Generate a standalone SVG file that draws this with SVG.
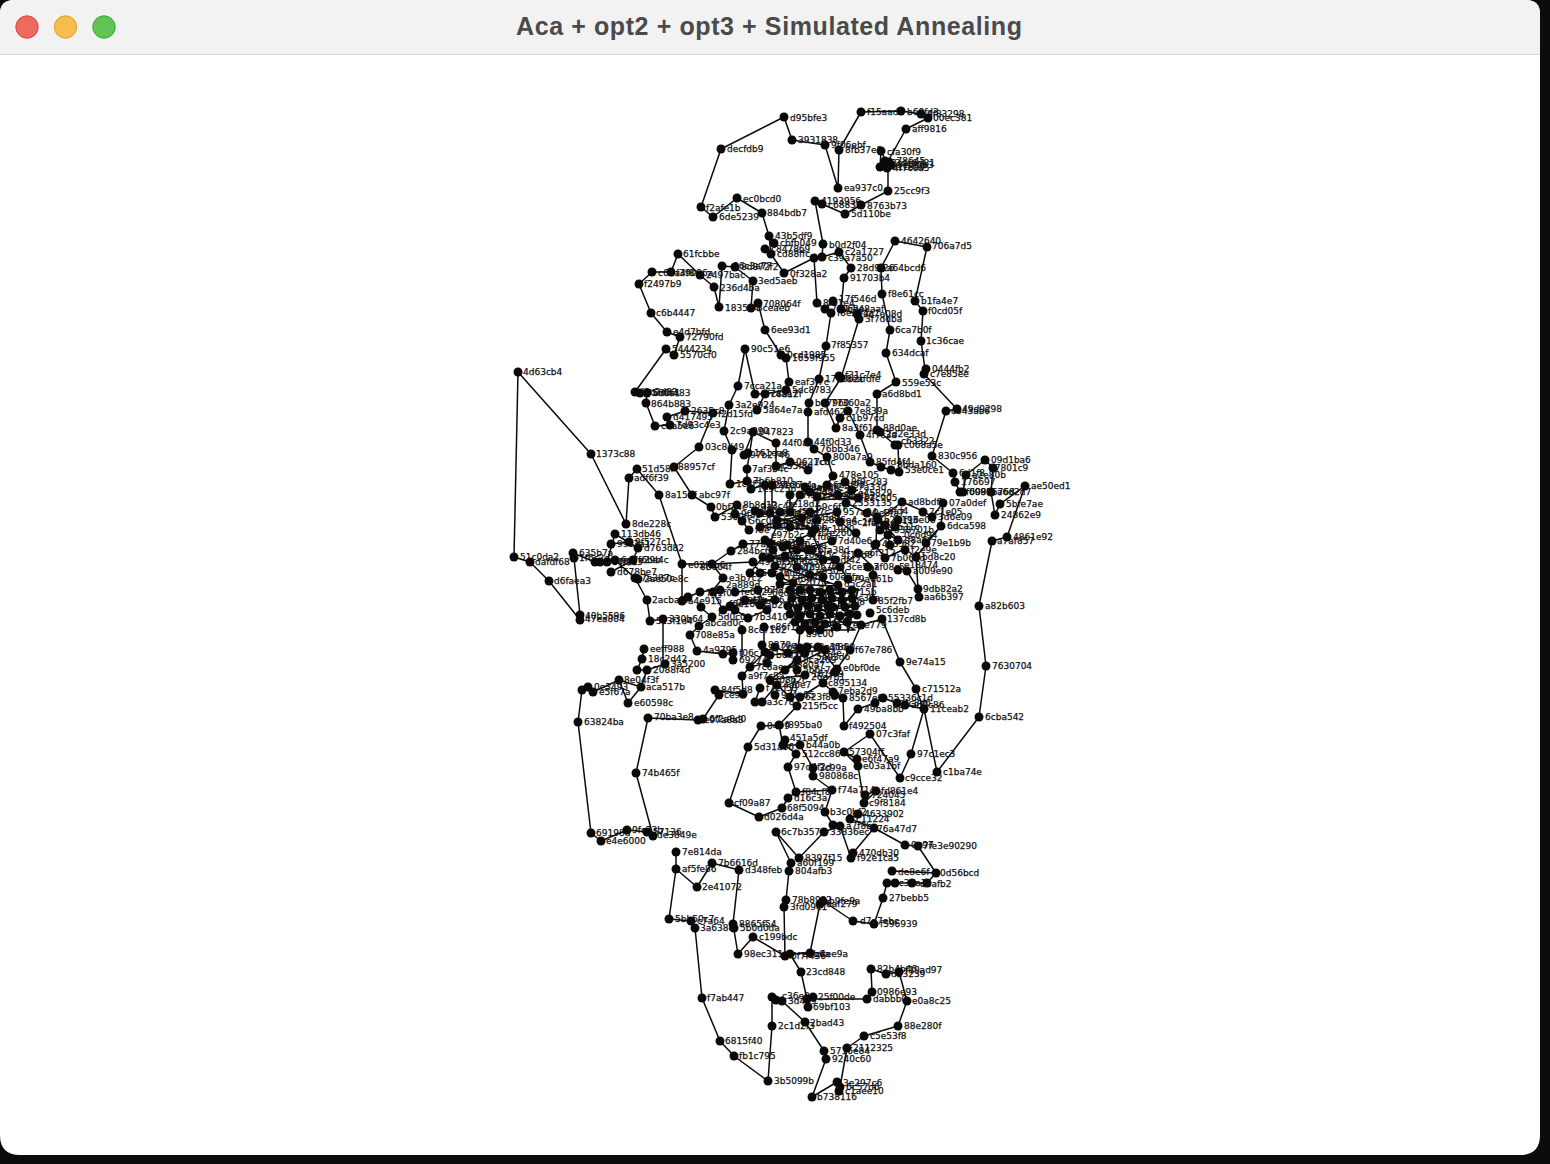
<svg xmlns="http://www.w3.org/2000/svg" width="1550" height="1164" viewBox="0 0 1550 1164">
<style>
#graph circle{r:4.5px;fill:#0a0a0a}
#graph text{font:9px "DejaVu Sans",sans-serif;fill:#111;stroke:#111;stroke-width:.25}
#connectors path{fill:none;stroke:#0a0a0a;stroke-width:1.5;stroke-linejoin:round}
.btn{stroke-width:1}
</style>
<rect width="1550" height="1164" fill="#0c0c0c"/>
<g id="window">
<path d="M14 0H1526Q1540 0 1540 14V1135Q1540 1155 1520 1155H20Q0 1155 0 1135V14Q0 0 14 0Z" fill="#fff"/>
<path d="M14 0H1526Q1540 0 1540 14V54H0V14Q0 0 14 0Z" fill="#f2f2f2"/>
<path d="M0 54.5H1540" stroke="#d8d8d8"/>
<circle class="btn" cx="27" cy="27" r="11.2" fill="#ee6a5f" stroke="#e0443e"/>
<circle class="btn" cx="65.500" cy="27" r="11.2" fill="#f5bd4f" stroke="#dea123"/>
<circle class="btn" cx="104" cy="27" r="11.2" fill="#61c454" stroke="#2aac2c"/>
<text x="516" y="35" textLength="506" lengthAdjust="spacing" font-family="'Liberation Sans',sans-serif" font-weight="700" font-size="25" fill="#4a4a4a">Aca + opt2 + opt3 + Simulated Annealing</text>
</g>
<g id="connectors">
<path d="M518 372L591 454L626 524L629 478L637 469L659 495L682 564L682 601L688 597L700 592L713 590L723 578L712 564L731 551L743 544L770 543M518 372L514 557L530 562L549 581L580 620L580 615L574 558L573 553L595 562L607 562L615 534L638 548L633 560L611 572M611 544L629 542L638 548M615 560L635 578L647 600L650 621L663 619L663 664M682 564L712 564L753 562M642 659L644 649M642 659L637 670L647 670L665 664M647 670L641 687L628 703L619 680L593 692L588 687L582 690L578 722L591 833L601 841L627 830L647 832L653 836L636 773L648 718L698 720L703 719L719 695L715 690L743 694L742 676L750 667L767 663M619 680L641 687M635 392L666 349L674 355L680 337L667 332L651 313L639 284L652 272L671 272L678 254L700 275L714 287L719 307L722 266L735 267L753 281L751 308L758 303L765 330L781 355L786 358L789 382L786 390L765 394L755 394L745 349L738 386L729 405L724 431L732 450L730 484L747 481L751 489L765 485L765 513M640 393L647 393L646 403L655 426L670 425L667 417L685 411L713 413L699 447L674 467L692 495L711 507L715 517L737 505L735 514L742 521L749 530M753 432L776 443L776 466L790 462L808 470M744 455L753 432L747 469L747 482M757 410L765 394M772 485L772 513M701 207L721 149L784 117L792 140L825 145L838 188L839 150L861 112L901 111L921 114L928 118L906 129L887 163L881 151L880 167L888 168L888 191L861 205L845 214L822 204L815 201L823 244L822 257L814 258L817 303L825 309L831 313L826 346L819 379L809 403L808 412L808 442L814 449L827 457L833 476L827 485M814 258L784 273L771 254L769 236L762 213L737 198L713 217L701 207M822 257L839 252L851 268L844 278L841 309L857 314L859 319L841 378L825 403L836 428L840 418L848 411L860 435L870 462L881 467L891 470L899 472L898 445L895 445M833 301L825 309M895 241L927 247L915 301L923 311L921 341L925 369L924 374L957 409L946 411L932 456L953 473L955 482L960 492L963 492L966 475L985 460L993 468L991 492L995 515L1000 504L1025 486L1007 537L992 541L979 606L986 666L979 717L937 772L924 709L911 754L900 778L870 734L844 752L857 759M937 772L924 709M895 241L881 268L882 294L890 330L886 353L896 382L877 394L877 430L880 432L895 445M882 619L900 662L916 689L924 709M905 705L924 709M882 619L861 625L850 650L837 669L823 683L833 692L843 698L844 726L858 709L875 703L883 698L897 703L905 705M873 600L873 567L858 553L840 567M919 597L918 589L916 557L941 526L925 543M907 571L918 589M902 502L923 511L932 517L943 503L941 526M844 752L858 766L864 803L876 791L865 795M800 745L813 768L813 776L832 790L825 812L833 825L840 826L851 858L853 853L874 828L905 845L918 846L936 873L892 871M874 828L850 819L858 814M840 826L824 832L799 858L776 832L791 863L789 871L786 900L784 907L785 956L790 954L801 972L807 999L867 999L872 992L871 969L886 974L899 972L907 1001L898 1026L864 1036L847 1048L840 1087L839 1091L837 1082L812 1097L826 1059L824 1051L805 1022L782 1001L776 1000L772 997L772 1026L768 1081L734 1056L720 1041L702 998L695 928L691 921L669 919L676 869L676 852M676 869L697 887L712 863L739 870L733 924L738 954L753 937L785 956M785 745L796 754L788 767L796 792L788 798L782 808L759 817L729 803L748 747L761 726L779 725L797 706L800 697M800 745L783 745L779 725M936 873L927 883L912 883L895 883L887 883L883 898L874 924L853 921L823 901L820 904L810 953L790 954M832 790L796 792M733 654L723 654L697 651L690 635L699 626L712 617L700 607M742 630L742 658M764 627L764 645M753 562L760 573M848 579L840 567M790 512L790 495M817 497L817 520M827 485L800 495L790 512L812 533L787 545L797 567L823 577L833 607M845 482L852 490L846 503L867 513L877 517L876 544M878 520L902 502M898 520L895 527L888 535L875 545L885 558L905 549L916 557M855 533L840 522L837 512L802 518L777 525L770 543L783 547L797 550L808 550L823 560L812 533M763 557L750 573L760 573L772 573L780 577L793 583L788 600L800 630L797 660L797 670L790 697M735 592L758 590L767 610L748 618L735 610L723 610L713 592M787 590L860 590L792 598L858 598L788 606L860 606L786 614L860 614L790 622L858 622L795 630L855 630L790 590L800 632L810 590L815 632L825 590L832 632L842 590L848 632L858 590M800 632L797 660M807 647L818 647L837 669M765 652L775 647L788 653L800 648L807 647M760 688L755 702L762 702L777 685L790 697L800 697M750 667L765 652M823 683L800 697M755 511L815 529L760 527L820 510M765 540L835 560L770 558L832 541M775 566L840 586L780 584L838 567M810 492L858 498L815 500L858 490M770 655L825 650L785 670L805 653L770 680L805 675M730 606L775 600L745 600L760 605M880 530L898 540L885 525L890 545"/>
</g>
<g id="graph">
<g id="n1"><circle cx="784" cy="117"/><text x="790" y="121">d95bfe3</text></g>
<g id="n2"><circle cx="721" cy="149"/><text x="727" y="152">decfdb9</text></g>
<g id="n3"><circle cx="701" cy="207"/><text x="706" y="211">f2afe1b</text></g>
<g id="n4"><circle cx="713" cy="217"/><text x="719" y="220">6de5239</text></g>
<g id="n5"><circle cx="737" cy="198"/><text x="743" y="202">ec0bcd0</text></g>
<g id="n6"><circle cx="762" cy="213"/><text x="767" y="216">884bdb7</text></g>
<g id="n7"><circle cx="769" cy="236"/><text x="775" y="239">43b5df9</text></g>
<g id="n8"><circle cx="774" cy="243"/><text x="780" y="246">cbfb049</text></g>
<g id="n9"><circle cx="765" cy="249"/><text x="771" y="252">c847869</text></g>
<g id="n10"><circle cx="771" cy="254"/><text x="777" y="257">cd88ffc</text></g>
<g id="n11"><circle cx="784" cy="273"/><text x="790" y="277">0f328a2</text></g>
<g id="n12"><circle cx="753" cy="281"/><text x="758" y="284">3ed5aeb</text></g>
<g id="n13"><circle cx="722" cy="266"/><text x="733" y="269">86c3a77</text></g>
<g id="n14"><circle cx="735" cy="267"/><text x="741" y="270">8d872f2</text></g>
<g id="n15"><circle cx="678" cy="254"/><text x="683" y="257">61fcbbe</text></g>
<g id="n16"><circle cx="652" cy="272"/><text x="658" y="276">c6da4f8</text></g>
<g id="n17"><circle cx="671" cy="272"/><text x="676" y="276">f39086a</text></g>
<g id="n18"><circle cx="700" cy="275"/><text x="706" y="278">2497bac</text></g>
<g id="n19"><circle cx="714" cy="287"/><text x="720" y="291">236d4ba</text></g>
<g id="n20"><circle cx="719" cy="307"/><text x="725" y="311">1835a4</text></g>
<g id="n21"><circle cx="639" cy="284"/><text x="644" y="287">f2497b9</text></g>
<g id="n22"><circle cx="651" cy="313"/><text x="656" y="316">c6b4447</text></g>
<g id="n23"><circle cx="667" cy="332"/><text x="673" y="335">e4d7bfd</text></g>
<g id="n24"><circle cx="680" cy="337"/><text x="686" y="340">72790fd</text></g>
<g id="n25"><circle cx="666" cy="349"/><text x="672" y="352">5444234</text></g>
<g id="n26"><circle cx="674" cy="355"/><text x="680" y="358">5570cf0</text></g>
<g id="n27"><circle cx="745" cy="349"/><text x="751" y="352">90c51e6</text></g>
<g id="n28"><circle cx="758" cy="303"/><text x="763" y="307">708064f</text></g>
<g id="n29"><circle cx="751" cy="308"/><text x="757" y="311">3ceaeb</text></g>
<g id="n30"><circle cx="765" cy="330"/><text x="771" y="333">6ee93d1</text></g>
<g id="n31"><circle cx="781" cy="355"/><text x="787" y="358">0cd1985</text></g>
<g id="n32"><circle cx="786" cy="358"/><text x="792" y="361">1659f955</text></g>
<g id="n33"><circle cx="792" cy="140"/><text x="798" y="143">3931838</text></g>
<g id="n34"><circle cx="825" cy="145"/><text x="831" y="148">9f06ebf</text></g>
<g id="n35"><circle cx="839" cy="150"/><text x="845" y="153">8fb37e8</text></g>
<g id="n36"><circle cx="861" cy="112"/><text x="867" y="115">f15aad4</text></g>
<g id="n37"><circle cx="901" cy="111"/><text x="907" y="115">b60fd3</text></g>
<g id="n38"><circle cx="921" cy="114"/><text x="927" y="117">4f83298</text></g>
<g id="n39"><circle cx="928" cy="118"/><text x="933" y="121">00ec381</text></g>
<g id="n40"><circle cx="906" cy="129"/><text x="912" y="132">aff9816</text></g>
<g id="n41"><circle cx="881" cy="151"/><text x="887" y="155">cfa30f9</text></g>
<g id="n42"><circle cx="885" cy="161"/><text x="891" y="164">a78645</text></g>
<g id="n43"><circle cx="889" cy="162"/><text x="895" y="166">3de6d81</text></g>
<g id="n44"><circle cx="880" cy="167"/><text x="886" y="170">5d1c8a9</text></g>
<g id="n45"><circle cx="887" cy="168"/><text x="893" y="171">4f7c0a5</text></g>
<g id="n46"><circle cx="891" cy="165"/><text x="897" y="168">9c6f0b3</text></g>
<g id="n47"><circle cx="888" cy="191"/><text x="894" y="194">25cc9f3</text></g>
<g id="n48"><circle cx="838" cy="188"/><text x="844" y="191">ea937c0</text></g>
<g id="n49"><circle cx="815" cy="201"/><text x="821" y="204">4193956</text></g>
<g id="n50"><circle cx="822" cy="204"/><text x="828" y="208">c68831</text></g>
<g id="n51"><circle cx="845" cy="214"/><text x="851" y="217">5d110be</text></g>
<g id="n52"><circle cx="861" cy="205"/><text x="867" y="209">8763b73</text></g>
<g id="n53"><circle cx="823" cy="244"/><text x="829" y="248">b0d2f04</text></g>
<g id="n54"><circle cx="822" cy="257"/><text x="828" y="261">c39a7a50</text></g>
<g id="n55"><circle cx="814" cy="258"/></g>
<g id="n56"><circle cx="839" cy="252"/><text x="845" y="255">c2a1727</text></g>
<g id="n57"><circle cx="851" cy="268"/><text x="857" y="271">28d9f26</text></g>
<g id="n58"><circle cx="844" cy="278"/><text x="850" y="281">91703b4</text></g>
<g id="n59"><circle cx="895" cy="241"/><text x="901" y="244">4642640</text></g>
<g id="n60"><circle cx="927" cy="247"/><text x="932" y="249">706a7d5</text></g>
<g id="n61"><circle cx="881" cy="268"/><text x="887" y="271">a64bcd6</text></g>
<g id="n62"><circle cx="882" cy="294"/><text x="888" y="297">f8e61cc</text></g>
<g id="n63"><circle cx="915" cy="301"/><text x="921" y="304">b1fa4e7</text></g>
<g id="n64"><circle cx="923" cy="311"/><text x="928" y="314">f0cd05f</text></g>
<g id="n65"><circle cx="890" cy="330"/><text x="895" y="333">6ca7b0f</text></g>
<g id="n66"><circle cx="921" cy="341"/><text x="926" y="344">1c36cae</text></g>
<g id="n67"><circle cx="886" cy="353"/><text x="892" y="356">634dcaf</text></g>
<g id="n68"><circle cx="926" cy="369"/><text x="932" y="372">0444fb2</text></g>
<g id="n69"><circle cx="924" cy="374"/><text x="930" y="377">c7e85ee</text></g>
<g id="n70"><circle cx="896" cy="382"/><text x="902" y="386">559e53c</text></g>
<g id="n71"><circle cx="817" cy="303"/><text x="823" y="306">8f61e4</text></g>
<g id="n72"><circle cx="833" cy="301"/><text x="839" y="302">17f546d</text></g>
<g id="n73"><circle cx="825" cy="309"/><text x="831" y="312">7a9c2e</text></g>
<g id="n74"><circle cx="831" cy="313"/><text x="837" y="316">f8e254a</text></g>
<g id="n75"><circle cx="841" cy="309"/><text x="847" y="312">6b48aaf</text></g>
<g id="n76"><circle cx="857" cy="314"/><text x="863" y="317">2c7e08d</text></g>
<g id="n77"><circle cx="859" cy="319"/><text x="865" y="322">3f7ddba</text></g>
<g id="n78"><circle cx="826" cy="346"/><text x="831" y="348">7f85357</text></g>
<g id="n79"><circle cx="819" cy="379"/><text x="825" y="382">17a3b2c</text></g>
<g id="n80"><circle cx="839" cy="376"/><text x="845" y="378">f31c7e4</text></g>
<g id="n81"><circle cx="841" cy="378"/><text x="846" y="382">8eafdfe</text></g>
<g id="n82"><circle cx="789" cy="382"/><text x="795" y="385">eaf3f7c</text></g>
<g id="n83"><circle cx="786" cy="390"/><text x="792" y="393">5dc8783</text></g>
<g id="n84"><circle cx="738" cy="386"/><text x="744" y="389">7cca21a</text></g>
<g id="n85"><circle cx="755" cy="394"/><text x="761" y="397">0f74aa7</text></g>
<g id="n86"><circle cx="765" cy="394"/><text x="771" y="397">c8a12f</text></g>
<g id="n87"><circle cx="757" cy="410"/><text x="763" y="413">5a64e7a</text></g>
<g id="n88"><circle cx="729" cy="405"/><text x="735" y="408">3a2e924</text></g>
<g id="n89"><circle cx="713" cy="413"/><text x="718" y="417">f2d15fd</text></g>
<g id="n90"><circle cx="685" cy="411"/><text x="691" y="414">2635c8</text></g>
<g id="n91"><circle cx="667" cy="417"/><text x="673" y="420">d417495</text></g>
<g id="n92"><circle cx="670" cy="425"/><text x="676" y="428">7d93c4e3</text></g>
<g id="n93"><circle cx="655" cy="426"/><text x="661" y="429">c8a5e6</text></g>
<g id="n94"><circle cx="646" cy="403"/><text x="651" y="407">864b883</text></g>
<g id="n95"><circle cx="635" cy="392"/><text x="641" y="395">f0c2d83</text></g>
<g id="n96"><circle cx="640" cy="393"/><text x="646" y="396">7566a1</text></g>
<g id="n97"><circle cx="647" cy="393"/><text x="653" y="396">6d0f483</text></g>
<g id="n98"><circle cx="518" cy="372"/><text x="523" y="375">4d63cb4</text></g>
<g id="n99"><circle cx="591" cy="454"/><text x="596" y="457">1373c88</text></g>
<g id="n100"><circle cx="626" cy="524"/><text x="632" y="527">8de228c</text></g>
<g id="n101"><circle cx="629" cy="478"/><text x="634" y="481">adf6f39</text></g>
<g id="n102"><circle cx="637" cy="469"/><text x="642" y="472">51d58f</text></g>
<g id="n103"><circle cx="659" cy="495"/><text x="665" y="498">8a151f</text></g>
<g id="n104"><circle cx="674" cy="467"/><text x="678" y="470">88957cf</text></g>
<g id="n105"><circle cx="699" cy="447"/><text x="705" y="450">03c8d49</text></g>
<g id="n106"><circle cx="692" cy="495"/><text x="699" y="498">abc97f</text></g>
<g id="n107"><circle cx="682" cy="564"/><text x="688" y="568">e02f8b6</text></g>
<g id="n108"><circle cx="647" cy="600"/><text x="652" y="603">2acba7f</text></g>
<g id="n109"><circle cx="650" cy="621"/><text x="656" y="624">5c3f1d4</text></g>
<g id="n110"><circle cx="663" cy="619"/><text x="669" y="622">330b64</text></g>
<g id="n111"><circle cx="514" cy="557"/><text x="520" y="560">51c0da2</text></g>
<g id="n112"><circle cx="530" cy="562"/><text x="535" y="565">dafdf68</text></g>
<g id="n113"><circle cx="549" cy="581"/><text x="554" y="584">d6faea3</text></g>
<g id="n114"><circle cx="580" cy="615"/><text x="585" y="619">40b5596</text></g>
<g id="n115"><circle cx="580" cy="620"/><text x="585" y="622">47ea804</text></g>
<g id="n116"><circle cx="573" cy="553"/><text x="579" y="556">635b7a</text></g>
<g id="n117"><circle cx="574" cy="558"/><text x="579" y="561">1f6c2e</text></g>
<g id="n118"><circle cx="615" cy="534"/><text x="621" y="537">113db46</text></g>
<g id="n119"><circle cx="611" cy="544"/><text x="617" y="547">99c3a1</text></g>
<g id="n120"><circle cx="629" cy="542"/><text x="635" y="545">9f527c1</text></g>
<g id="n121"><circle cx="638" cy="548"/><text x="644" y="551">d763d82</text></g>
<g id="n122"><circle cx="611" cy="572"/><text x="617" y="575">d678be7</text></g>
<g id="n123"><circle cx="635" cy="578"/><text x="641" y="581">7a387c</text></g>
<g id="n124"><circle cx="638" cy="579"/><text x="644" y="582">2ae50e8c</text></g>
<g id="n125"><circle cx="595" cy="562"/></g>
<g id="n126"><circle cx="600" cy="562"/><text x="606" y="565">8e4f1c</text></g>
<g id="n127"><circle cx="607" cy="562"/><text x="612" y="565">c7f9a3</text></g>
<g id="n128"><circle cx="615" cy="560"/><text x="621" y="563">6d7e29b</text></g>
<g id="n129"><circle cx="633" cy="560"/><text x="638" y="563">f6ba4c</text></g>
<g id="n130"><circle cx="644" cy="649"/><text x="650" y="652">eeff988</text></g>
<g id="n131"><circle cx="642" cy="659"/><text x="648" y="662">18c2d42</text></g>
<g id="n132"><circle cx="665" cy="664"/><text x="671" y="667">3a5200</text></g>
<g id="n133"><circle cx="637" cy="670"/></g>
<g id="n134"><circle cx="647" cy="670"/><text x="653" y="673">2088f4d</text></g>
<g id="n135"><circle cx="619" cy="680"/><text x="624" y="683">8e04f3f</text></g>
<g id="n136"><circle cx="641" cy="687"/><text x="646" y="690">aca517b</text></g>
<g id="n137"><circle cx="588" cy="687"/><text x="594" y="690">0e3493</text></g>
<g id="n138"><circle cx="582" cy="690"/></g>
<g id="n139"><circle cx="593" cy="692"/><text x="599" y="695">e5f67a</text></g>
<g id="n140"><circle cx="628" cy="703"/><text x="634" y="706">e60598c</text></g>
<g id="n141"><circle cx="578" cy="722"/><text x="584" y="725">63824ba</text></g>
<g id="n142"><circle cx="648" cy="718"/><text x="654" y="720">70ba3e8</text></g>
<g id="n143"><circle cx="698" cy="720"/><text x="704" y="723">e97a8a3</text></g>
<g id="n144"><circle cx="703" cy="719"/><text x="709" y="722">6f2a8d0</text></g>
<g id="n145"><circle cx="636" cy="773"/><text x="642" y="776">74b465f</text></g>
<g id="n146"><circle cx="591" cy="833"/><text x="596" y="836">69198d</text></g>
<g id="n147"><circle cx="601" cy="841"/><text x="606" y="844">e4e6000</text></g>
<g id="n148"><circle cx="627" cy="830"/><text x="632" y="833">9fc73b</text></g>
<g id="n149"><circle cx="647" cy="832"/><text x="653" y="835">57136</text></g>
<g id="n150"><circle cx="653" cy="836"/><text x="657" y="838">de3849e</text></g>
<g id="n151"><circle cx="676" cy="852"/><text x="682" y="855">7e814da</text></g>
<g id="n152"><circle cx="676" cy="869"/><text x="682" y="872">af5fe86</text></g>
<g id="n153"><circle cx="712" cy="863"/><text x="718" y="866">7b6616d</text></g>
<g id="n154"><circle cx="739" cy="870"/><text x="745" y="873">d348feb</text></g>
<g id="n155"><circle cx="697" cy="887"/><text x="702" y="890">2e41072</text></g>
<g id="n156"><circle cx="669" cy="919"/><text x="675" y="922">5bb50c7</text></g>
<g id="n157"><circle cx="691" cy="921"/><text x="697" y="924">c7a64</text></g>
<g id="n158"><circle cx="695" cy="928"/><text x="700" y="931">3a638c</text></g>
<g id="n159"><circle cx="733" cy="924"/><text x="739" y="927">8865f54</text></g>
<g id="n160"><circle cx="734" cy="928"/><text x="740" y="931">5b0d0da</text></g>
<g id="n161"><circle cx="753" cy="937"/><text x="759" y="940">c199bdc</text></g>
<g id="n162"><circle cx="738" cy="954"/><text x="744" y="957">98ec311</text></g>
<g id="n163"><circle cx="785" cy="956"/><text x="791" y="959">6f7f436</text></g>
<g id="n164"><circle cx="790" cy="954"/><text x="802" y="957">e7b6a</text></g>
<g id="n165"><circle cx="810" cy="953"/><text x="815" y="957">c4ee9a</text></g>
<g id="n166"><circle cx="801" cy="972"/><text x="806" y="975">23cd848</text></g>
<g id="n167"><circle cx="702" cy="998"/><text x="707" y="1001">f7ab447</text></g>
<g id="n168"><circle cx="720" cy="1041"/><text x="725" y="1044">6815f40</text></g>
<g id="n169"><circle cx="734" cy="1056"/><text x="739" y="1059">fb1c795</text></g>
<g id="n170"><circle cx="768" cy="1081"/><text x="774" y="1084">3b5099b</text></g>
<g id="n171"><circle cx="772" cy="1026"/><text x="778" y="1029">2c1d2f3</text></g>
<g id="n172"><circle cx="772" cy="997"/><text x="782" y="999">c36e8</text></g>
<g id="n173"><circle cx="776" cy="1000"/></g>
<g id="n174"><circle cx="782" cy="1001"/><text x="788" y="1004">3d4a9</text></g>
<g id="n175"><circle cx="807" cy="999"/></g>
<g id="n176"><circle cx="813" cy="997"/><text x="818" y="1000">25f00de</text></g>
<g id="n177"><circle cx="808" cy="1007"/><text x="813" y="1010">69bf103</text></g>
<g id="n178"><circle cx="805" cy="1022"/><text x="810" y="1026">2bad43</text></g>
<g id="n179"><circle cx="824" cy="1051"/><text x="830" y="1054">5716e84</text></g>
<g id="n180"><circle cx="826" cy="1059"/><text x="832" y="1062">9240c60</text></g>
<g id="n181"><circle cx="812" cy="1097"/><text x="817" y="1100">b738116</text></g>
<g id="n182"><circle cx="837" cy="1082"/><text x="843" y="1086">3e297c6</text></g>
<g id="n183"><circle cx="840" cy="1087"/><text x="846" y="1090">6c57d6</text></g>
<g id="n184"><circle cx="839" cy="1091"/><text x="845" y="1094">c1aee10</text></g>
<g id="n185"><circle cx="847" cy="1048"/><text x="853" y="1051">2112325</text></g>
<g id="n186"><circle cx="864" cy="1036"/><text x="870" y="1039">c5e53f8</text></g>
<g id="n187"><circle cx="898" cy="1026"/><text x="904" y="1029">88e280f</text></g>
<g id="n188"><circle cx="907" cy="1001"/><text x="912" y="1004">e0a8c25</text></g>
<g id="n189"><circle cx="867" cy="999"/><text x="873" y="1002">dabbb0</text></g>
<g id="n190"><circle cx="872" cy="992"/><text x="877" y="995">0986e93</text></g>
<g id="n191"><circle cx="871" cy="969"/><text x="877" y="972">82b4b46</text></g>
<g id="n192"><circle cx="886" cy="974"/><text x="891" y="977">d23239</text></g>
<g id="n193"><circle cx="899" cy="972"/><text x="905" y="973">f19ad97</text></g>
<g id="n194"><circle cx="874" cy="924"/><text x="880" y="927">f596939</text></g>
<g id="n195"><circle cx="853" cy="921"/><text x="860" y="924">d7a7ebc</text></g>
<g id="n196"><circle cx="883" cy="898"/><text x="889" y="901">27bebb5</text></g>
<g id="n197"><circle cx="823" cy="901"/><text x="829" y="904">b9fe9a</text></g>
<g id="n198"><circle cx="820" cy="904"/><text x="826" y="907">8af279</text></g>
<g id="n199"><circle cx="786" cy="900"/><text x="792" y="903">78b8982</text></g>
<g id="n200"><circle cx="784" cy="907"/><text x="790" y="910">3fd09e1</text></g>
<g id="n201"><circle cx="789" cy="871"/><text x="795" y="874">804afb3</text></g>
<g id="n202"><circle cx="791" cy="863"/><text x="797" y="866">a60f199</text></g>
<g id="n203"><circle cx="799" cy="858"/><text x="805" y="861">8397f15</text></g>
<g id="n204"><circle cx="776" cy="832"/><text x="781" y="835">6c7b357</text></g>
<g id="n205"><circle cx="892" cy="871"/><text x="898" y="875">de8e6f</text></g>
<g id="n206"><circle cx="936" cy="873"/><text x="940" y="876">0d56bcd</text></g>
<g id="n207"><circle cx="887" cy="883"/><text x="893" y="886">4c37a1</text></g>
<g id="n208"><circle cx="895" cy="883"/></g>
<g id="n209"><circle cx="912" cy="883"/></g>
<g id="n210"><circle cx="927" cy="883"/><text x="920" y="887">d8afb2</text></g>
<g id="n211"><circle cx="905" cy="845"/><text x="911" y="848">0a97</text></g>
<g id="n212"><circle cx="918" cy="846"/><text x="917" y="849">97fe3e90290</text></g>
<g id="n213"><circle cx="874" cy="828"/><text x="877" y="832">76a47d7</text></g>
<g id="n214"><circle cx="853" cy="853"/><text x="859" y="856">470db30</text></g>
<g id="n215"><circle cx="851" cy="858"/><text x="857" y="861">f92e1ca5</text></g>
<g id="n216"><circle cx="858" cy="814"/><text x="864" y="817">4633902</text></g>
<g id="n217"><circle cx="850" cy="819"/><text x="856" y="822">c11224</text></g>
<g id="n218"><circle cx="825" cy="812"/><text x="830" y="815">b3c0bf2</text></g>
<g id="n219"><circle cx="833" cy="825"/></g>
<g id="n220"><circle cx="840" cy="826"/><text x="846" y="829">a7f8b</text></g>
<g id="n221"><circle cx="824" cy="832"/><text x="830" y="835">33836ec</text></g>
<g id="n222"><circle cx="876" cy="791"/><text x="881" y="794">fd861e4</text></g>
<g id="n223"><circle cx="865" cy="795"/><text x="871" y="798">724045</text></g>
<g id="n224"><circle cx="864" cy="803"/><text x="869" y="806">c9f8184</text></g>
<g id="n225"><circle cx="832" cy="790"/><text x="838" y="793">f74a714</text></g>
<g id="n226"><circle cx="796" cy="792"/><text x="802" y="795">f84cf8</text></g>
<g id="n227"><circle cx="788" cy="798"/><text x="794" y="801">d16c3a</text></g>
<g id="n228"><circle cx="782" cy="808"/><text x="787" y="811">68f5094</text></g>
<g id="n229"><circle cx="759" cy="817"/><text x="764" y="820">d026d4a</text></g>
<g id="n230"><circle cx="729" cy="803"/><text x="734" y="806">cf09a87</text></g>
<g id="n231"><circle cx="748" cy="747"/><text x="754" y="750">5d31a66</text></g>
<g id="n232"><circle cx="761" cy="726"/><text x="767" y="729">0499</text></g>
<g id="n233"><circle cx="779" cy="725"/><text x="785" y="728">f895ba0</text></g>
<g id="n234"><circle cx="785" cy="740"/></g>
<g id="n235"><circle cx="783" cy="745"/></g>
<g id="n236"><circle cx="800" cy="745"/><text x="790" y="741">451a5df</text><text x="806" y="748">b44a0b</text></g>
<g id="n237"><circle cx="796" cy="754"/><text x="802" y="757">512cc86</text></g>
<g id="n238"><circle cx="788" cy="767"/><text x="794" y="770">97d4f2d</text></g>
<g id="n239"><circle cx="813" cy="768"/><text x="819" y="771">3c99a</text></g>
<g id="n240"><circle cx="813" cy="776"/><text x="819" y="779">980868c</text></g>
<g id="n241"><circle cx="844" cy="752"/><text x="849" y="755">57304ff</text></g>
<g id="n242"><circle cx="857" cy="759"/><text x="862" y="762">e6f47a9</text></g>
<g id="n243"><circle cx="858" cy="766"/><text x="863" y="769">e03a1bf</text></g>
<g id="n244"><circle cx="870" cy="734"/><text x="876" y="737">07c3faf</text></g>
<g id="n245"><circle cx="844" cy="726"/><text x="849" y="729">f492504</text></g>
<g id="n246"><circle cx="858" cy="709"/><text x="864" y="712">49ba8bb</text></g>
<g id="n247"><circle cx="875" cy="703"/></g>
<g id="n248"><circle cx="883" cy="698"/><text x="888" y="701">55336c1d</text></g>
<g id="n249"><circle cx="897" cy="703"/><text x="903" y="706">4c8d6</text></g>
<g id="n250"><circle cx="905" cy="705"/><text x="911" y="708">ad9c86</text></g>
<g id="n251"><circle cx="924" cy="709"/><text x="930" y="712">11ceab2</text></g>
<g id="n252"><circle cx="916" cy="689"/><text x="922" y="692">c71512a</text></g>
<g id="n253"><circle cx="900" cy="662"/><text x="906" y="665">9e74a15</text></g>
<g id="n254"><circle cx="911" cy="754"/><text x="917" y="757">97c1ec3</text></g>
<g id="n255"><circle cx="900" cy="778"/><text x="905" y="781">c9cce32</text></g>
<g id="n256"><circle cx="937" cy="772"/><text x="943" y="775">c1ba74e</text></g>
<g id="n257"><circle cx="979" cy="717"/><text x="985" y="720">6cba542</text></g>
<g id="n258"><circle cx="986" cy="666"/><text x="992" y="669">7630704</text></g>
<g id="n259"><circle cx="979" cy="606"/><text x="985" y="609">a82b603</text></g>
<g id="n260"><circle cx="992" cy="541"/><text x="997" y="544">a7af857</text></g>
<g id="n261"><circle cx="1007" cy="537"/><text x="1013" y="540">4861e92</text></g>
<g id="n262"><circle cx="995" cy="515"/><text x="1001" y="518">24862e9</text></g>
<g id="n263"><circle cx="1000" cy="504"/><text x="1006" y="507">5bfe7ae</text></g>
<g id="n264"><circle cx="1025" cy="486"/><text x="1031" y="489">ae50ed1</text></g>
<g id="n265"><circle cx="991" cy="492"/><text x="997" y="495">a6d2d7</text></g>
<g id="n266"><circle cx="993" cy="468"/><text x="989" y="471">97801c9</text></g>
<g id="n267"><circle cx="985" cy="460"/><text x="991" y="463">09d1ba6</text></g>
<g id="n268"><circle cx="966" cy="475"/><text x="972" y="478">a2e80b</text></g>
<g id="n269"><circle cx="953" cy="473"/><text x="959" y="476">6d1f8</text></g>
<g id="n270"><circle cx="955" cy="482"/><text x="961" y="485">176697</text></g>
<g id="n271"><circle cx="960" cy="492"/><text x="966" y="495">f0980</text></g>
<g id="n272"><circle cx="963" cy="492"/><text x="969" y="495">609b5768</text></g>
<g id="n273"><circle cx="932" cy="456"/><text x="938" y="459">830c956</text></g>
<g id="n274"><circle cx="946" cy="411"/><text x="951" y="414">c843ab6</text></g>
<g id="n275"><circle cx="957" cy="409"/><text x="962" y="412">49d9298</text></g>
<g id="n276"><circle cx="877" cy="394"/><text x="882" y="397">a6d8bd1</text></g>
<g id="n277"><circle cx="809" cy="403"/><text x="815" y="406">bd7960</text></g>
<g id="n278"><circle cx="808" cy="412"/><text x="814" y="415">afd462</text></g>
<g id="n279"><circle cx="825" cy="403"/><text x="831" y="406">77360a2</text></g>
<g id="n280"><circle cx="848" cy="411"/><text x="854" y="414">7e839a</text></g>
<g id="n281"><circle cx="840" cy="418"/><text x="846" y="421">c1b97cd</text></g>
<g id="n282"><circle cx="836" cy="428"/><text x="842" y="431">8a3f61</text></g>
<g id="n283"><circle cx="860" cy="435"/><text x="866" y="438">4f7c3a</text></g>
<g id="n284"><circle cx="877" cy="430"/><text x="883" y="431">88d0ae</text></g>
<g id="n285"><circle cx="880" cy="432"/><text x="886" y="437">2d2e33d</text></g>
<g id="n286"><circle cx="895" cy="445"/><text x="901" y="444">c63322</text></g>
<g id="n287"><circle cx="898" cy="445"/><text x="904" y="448">c068a5e</text></g>
<g id="n288"><circle cx="870" cy="462"/><text x="876" y="465">85fd4f4</text></g>
<g id="n289"><circle cx="881" cy="467"/></g>
<g id="n290"><circle cx="891" cy="470"/><text x="897" y="468">8bda160</text></g>
<g id="n291"><circle cx="899" cy="472"/><text x="905" y="473">53e0ce1</text></g>
<g id="n292"><circle cx="808" cy="442"/><text x="814" y="445">44f0d33</text></g>
<g id="n293"><circle cx="814" cy="449"/><text x="820" y="452">76bb346</text></g>
<g id="n294"><circle cx="827" cy="457"/><text x="833" y="460">800a7a9</text></g>
<g id="n295"><circle cx="833" cy="476"/><text x="839" y="478">478e105</text></g>
<g id="n296"><circle cx="776" cy="443"/><text x="782" y="446">44f0a9</text></g>
<g id="n297"><circle cx="724" cy="431"/><text x="730" y="434">2c9a890</text></g>
<g id="n298"><circle cx="753" cy="432"/><text x="759" y="435">047823</text></g>
<g id="n299"><circle cx="732" cy="450"/></g>
<g id="n300"><circle cx="744" cy="455"/><text x="750" y="458">97b2746</text></g>
<g id="n301"><circle cx="748" cy="453"/><text x="754" y="456">161ea8</text></g>
<g id="n302"><circle cx="747" cy="469"/><text x="752" y="472">7af3b4c</text></g>
<g id="n303"><circle cx="776" cy="466"/><text x="782" y="469">c55f8d</text></g>
<g id="n304"><circle cx="790" cy="462"/><text x="796" y="465">0621cf</text></g>
<g id="n305"><circle cx="808" cy="470"/><text x="814" y="465">7c0c</text></g>
<g id="n306"><circle cx="730" cy="484"/><text x="736" y="487">1c8f5</text></g>
<g id="n307"><circle cx="747" cy="481"/><text x="753" y="484">7b6b810</text></g>
<g id="n308"><circle cx="751" cy="489"/><text x="757" y="492">1e9c25b</text></g>
<g id="n309"><circle cx="765" cy="485"/><text x="771" y="488">f29b37</text></g>
<g id="n310"><circle cx="772" cy="485"/><text x="778" y="488">a1d6e4</text></g>
<g id="n311"><circle cx="711" cy="507"/><text x="716" y="510">0bf24c</text></g>
<g id="n312"><circle cx="715" cy="517"/><text x="721" y="520">5380fc</text></g>
<g id="n313"><circle cx="737" cy="505"/><text x="743" y="508">8b8d12</text></g>
<g id="n314"><circle cx="735" cy="514"/><text x="741" y="517">9fa3e7</text></g>
<g id="n315"><circle cx="742" cy="521"/><text x="748" y="524">G6c0d</text></g>
<g id="n316"><circle cx="749" cy="530"/><text x="755" y="533">f8e</text></g>
<g id="n317"><circle cx="760" cy="513"/><text x="766" y="516">489e0a</text></g>
<g id="n318"><circle cx="770" cy="513"/><text x="776" y="516">c7a1f3</text></g>
<g id="n319"><circle cx="777" cy="520"/><text x="783" y="523">6e02bd</text></g>
<g id="n320"><circle cx="777" cy="525"/><text x="783" y="528">b184c9</text></g>
<g id="n321"><circle cx="790" cy="495"/><text x="796" y="498">77f3a2</text></g>
<g id="n322"><circle cx="790" cy="512"/><text x="796" y="515">d50e7c</text></g>
<g id="n323"><circle cx="802" cy="518"/><text x="808" y="521">3b458f</text></g>
<g id="n324"><circle cx="800" cy="495"/><text x="806" y="491">c4a6de</text></g>
<g id="n325"><circle cx="805" cy="487"/><text x="811" y="490">9a81f2</text></g>
<g id="n326"><circle cx="817" cy="497"/><text x="823" y="500">f7b2c0</text></g>
<g id="n327"><circle cx="817" cy="520"/><text x="823" y="523">28a6e4</text></g>
<g id="n328"><circle cx="827" cy="485"/><text x="833" y="488">6d3f90</text></g>
<g id="n329"><circle cx="845" cy="482"/><text x="851" y="485">8f9c283</text></g>
<g id="n330"><circle cx="852" cy="490"/><text x="858" y="490">7a33d</text><text x="858" y="496">e45829</text></g>
<g id="n331"><circle cx="846" cy="503"/><text x="852" y="506">2353135</text></g>
<g id="n332"><circle cx="837" cy="512"/><text x="843" y="515">957a04</text></g>
<g id="n333"><circle cx="840" cy="522"/><text x="846" y="525">a6c1f8</text></g>
<g id="n334"><circle cx="867" cy="513"/><text x="873" y="516">0e8fa7</text></g>
<g id="n335"><circle cx="877" cy="517"/><text x="883" y="514">c6fd4</text></g>
<g id="n336"><circle cx="878" cy="520"/><text x="884" y="523">b2d193</text></g>
<g id="n337"><circle cx="898" cy="520"/><text x="904" y="523">f16e08</text></g>
<g id="n338"><circle cx="902" cy="502"/><text x="908" y="505">ad8bdfb</text></g>
<g id="n339"><circle cx="923" cy="512"/><text x="929" y="515">7c1e05</text></g>
<g id="n340"><circle cx="932" cy="517"/><text x="938" y="520">3d6e09</text></g>
<g id="n341"><circle cx="943" cy="503"/><text x="949" y="506">07a0def</text></g>
<g id="n342"><circle cx="941" cy="526"/><text x="947" y="529">6dca598</text></g>
<g id="n343"><circle cx="926" cy="543"/><text x="931" y="546">79e1b9b</text></g>
<g id="n344"><circle cx="916" cy="557"/><text x="922" y="560">bd8c20</text></g>
<g id="n345"><circle cx="905" cy="550"/><text x="911" y="553">f2e9e</text></g>
<g id="n346"><circle cx="907" cy="571"/><text x="913" y="574">a009e90</text></g>
<g id="n347"><circle cx="918" cy="589"/><text x="923" y="592">9db82a2</text></g>
<g id="n348"><circle cx="919" cy="597"/><text x="924" y="600">aa6b397</text></g>
<g id="n349"><circle cx="898" cy="570"/><text x="904" y="568">e18474</text></g>
<g id="n350"><circle cx="856" cy="533"/><text x="862" y="526">2fafc4c</text></g>
<g id="n351"><circle cx="888" cy="535"/><text x="894" y="533">938701b</text></g>
<g id="n352"><circle cx="895" cy="527"/></g>
<g id="n353"><circle cx="876" cy="544"/><text x="882" y="547">4c3582</text></g>
<g id="n354"><circle cx="875" cy="545"/></g>
<g id="n355"><circle cx="885" cy="558"/><text x="891" y="561">7b06ed</text></g>
<g id="n356"><circle cx="858" cy="553"/><text x="864" y="556">e6f312</text></g>
<g id="n357"><circle cx="868" cy="567"/><text x="874" y="570">af08c5</text></g>
<g id="n358"><circle cx="873" cy="575"/></g>
<g id="n359"><circle cx="848" cy="579"/><text x="853" y="582">79a661b</text></g>
<g id="n360"><circle cx="840" cy="567"/><text x="846" y="570">3ce5a7</text></g>
<g id="n361"><circle cx="823" cy="560"/><text x="829" y="563">19df42</text></g>
<g id="n362"><circle cx="812" cy="533"/><text x="818" y="536">b7e260</text></g>
<g id="n363"><circle cx="812" cy="550"/><text x="818" y="553">5fa38d</text></g>
<g id="n364"><circle cx="787" cy="545"/><text x="793" y="548">840c1e</text></g>
<g id="n365"><circle cx="797" cy="567"/><text x="803" y="570">d29b76</text></g>
<g id="n366"><circle cx="823" cy="577"/><text x="829" y="580">60e7fa</text></g>
<g id="n367"><circle cx="743" cy="544"/><text x="749" y="547">77a01d</text></g>
<g id="n368"><circle cx="731" cy="551"/><text x="737" y="554">284bc6</text></g>
<g id="n369"><circle cx="712" cy="564"/><text x="700" y="570">8b604f</text></g>
<g id="n370"><circle cx="753" cy="562"/><text x="759" y="565">4910f55</text></g>
<g id="n371"><circle cx="723" cy="578"/><text x="729" y="581">e3b7c2</text></g>
<g id="n372"><circle cx="770" cy="543"/><text x="776" y="546">d8f13a</text></g>
<g id="n373"><circle cx="773" cy="550"/></g>
<g id="n374"><circle cx="783" cy="547"/><text x="789" y="552">0ab7e1</text></g>
<g id="n375"><circle cx="797" cy="550"/><text x="803" y="558">16d95c</text></g>
<g id="n376"><circle cx="808" cy="550"/></g>
<g id="n377"><circle cx="763" cy="557"/><text x="769" y="560">f4e20b</text></g>
<g id="n378"><circle cx="750" cy="573"/><text x="756" y="576">a59c17</text></g>
<g id="n379"><circle cx="760" cy="573"/></g>
<g id="n380"><circle cx="772" cy="573"/><text x="778" y="576">3bd864</text></g>
<g id="n381"><circle cx="780" cy="577"/></g>
<g id="n382"><circle cx="793" cy="583"/><text x="799" y="586">c207fe</text></g>
<g id="n383"><circle cx="758" cy="590"/><text x="764" y="593">97f2a8</text></g>
<g id="n384"><circle cx="735" cy="592"/><text x="741" y="595">fe6029</text></g>
<g id="n385"><circle cx="720" cy="590"/><text x="726" y="588">2a889d</text></g>
<g id="n386"><circle cx="713" cy="592"/></g>
<g id="n387"><circle cx="700" cy="592"/><text x="706" y="596">7e1f03</text></g>
<g id="n388"><circle cx="688" cy="597"/></g>
<g id="n389"><circle cx="682" cy="601"/><text x="688" y="604">a4e915</text></g>
<g id="n390"><circle cx="701" cy="607"/></g>
<g id="n391"><circle cx="712" cy="617"/><text x="718" y="620">5d0c0e</text></g>
<g id="n392"><circle cx="699" cy="626"/><text x="705" y="626">abcad0c</text></g>
<g id="n393"><circle cx="690" cy="635"/><text x="695" y="638">708e85a</text></g>
<g id="n394"><circle cx="723" cy="610"/><text x="729" y="607">f6a16e</text></g>
<g id="n395"><circle cx="735" cy="610"/></g>
<g id="n396"><circle cx="748" cy="618"/><text x="754" y="620">7b3410</text></g>
<g id="n397"><circle cx="767" cy="610"/></g>
<g id="n398"><circle cx="742" cy="630"/><text x="748" y="633">8cc7162</text></g>
<g id="n399"><circle cx="764" cy="627"/><text x="770" y="630">e86f1</text></g>
<g id="n400"><circle cx="697" cy="651"/><text x="703" y="653">4a9795</text></g>
<g id="n401"><circle cx="723" cy="654"/></g>
<g id="n402"><circle cx="733" cy="653"/><text x="739" y="656">f06c7</text></g>
<g id="n403"><circle cx="733" cy="660"/><text x="739" y="663">69274c</text></g>
<g id="n404"><circle cx="762" cy="645"/><text x="768" y="648">8370e</text></g>
<g id="n405"><circle cx="765" cy="652"/></g>
<g id="n406"><circle cx="775" cy="647"/><text x="781" y="650">2b4c1f</text></g>
<g id="n407"><circle cx="788" cy="653"/></g>
<g id="n408"><circle cx="807" cy="647"/><text x="813" y="650">a8e31d</text></g>
<g id="n409"><circle cx="818" cy="647"/><text x="824" y="650">c4f880</text></g>
<g id="n410"><circle cx="800" cy="648"/></g>
<g id="n411"><circle cx="800" cy="630"/><text x="806" y="627">654fc0</text><text x="806" y="637">a9c00</text></g>
<g id="n412"><circle cx="797" cy="660"/><text x="803" y="663">8ca209</text></g>
<g id="n413"><circle cx="797" cy="670"/><text x="803" y="673">5b6c7e</text></g>
<g id="n414"><circle cx="750" cy="667"/><text x="756" y="670">7c8ae</text></g>
<g id="n415"><circle cx="767" cy="663"/></g>
<g id="n416"><circle cx="742" cy="676"/><text x="748" y="679">a9f7c85</text></g>
<g id="n417"><circle cx="715" cy="690"/><text x="721" y="693">84f5d8</text></g>
<g id="n418"><circle cx="719" cy="695"/><text x="724" y="698">ce92</text></g>
<g id="n419"><circle cx="743" cy="694"/></g>
<g id="n420"><circle cx="755" cy="702"/><text x="761" y="705">6a3c78</text></g>
<g id="n421"><circle cx="762" cy="702"/></g>
<g id="n422"><circle cx="760" cy="688"/><text x="766" y="691">f72d53</text></g>
<g id="n423"><circle cx="777" cy="685"/><text x="783" y="688">4a6e7</text></g>
<g id="n424"><circle cx="790" cy="697"/></g>
<g id="n425"><circle cx="800" cy="697"/><text x="805" y="700">623f8e</text></g>
<g id="n426"><circle cx="797" cy="706"/><text x="802" y="709">215f5cc</text></g>
<g id="n427"><circle cx="823" cy="683"/><text x="828" y="686">c895134</text></g>
<g id="n428"><circle cx="833" cy="692"/><text x="838" y="694">7eba2d9</text></g>
<g id="n429"><circle cx="835" cy="695"/></g>
<g id="n430"><circle cx="843" cy="698"/><text x="849" y="701">8567e0</text></g>
<g id="n431"><circle cx="837" cy="669"/><text x="843" y="671">e0bf0de</text></g>
<g id="n432"><circle cx="835" cy="672"/><text x="812" y="677">161f49</text></g>
<g id="n433"><circle cx="850" cy="650"/><text x="855" y="653">f67e786</text></g>
<g id="n434"><circle cx="861" cy="625"/><text x="847" y="628">7e1e779</text></g>
<g id="n435"><circle cx="882" cy="619"/><text x="887" y="622">137cd8b</text></g>
<g id="n436"><circle cx="873" cy="600"/><text x="878" y="604">85f2fb7</text></g>
<g id="n437"><circle cx="870" cy="613"/><text x="876" y="613">5c6deb</text></g>
<g id="n438"><circle cx="857" cy="615"/></g>
<g id="n439"><circle cx="833" cy="607"/><text x="839" y="605">1fa08</text></g>
<g id="n440"><circle cx="790" cy="590"/><text x="796" y="593">b13e7</text></g>
<g id="n441"><circle cx="800" cy="590"/></g>
<g id="n442"><circle cx="810" cy="590"/></g>
<g id="n443"><circle cx="820" cy="592"/><text x="826" y="595">2f9d4</text></g>
<g id="n444"><circle cx="830" cy="590"/></g>
<g id="n445"><circle cx="842" cy="592"/><text x="848" y="595">e715b</text></g>
<g id="n446"><circle cx="852" cy="590"/></g>
<g id="n447"><circle cx="792" cy="598"/></g>
<g id="n448"><circle cx="802" cy="600"/></g>
<g id="n449"><circle cx="812" cy="598"/></g>
<g id="n450"><circle cx="822" cy="600"/></g>
<g id="n451"><circle cx="832" cy="598"/></g>
<g id="n452"><circle cx="842" cy="600"/></g>
<g id="n453"><circle cx="852" cy="598"/><text x="858" y="601">c38a</text></g>
<g id="n454"><circle cx="788" cy="606"/></g>
<g id="n455"><circle cx="798" cy="608"/></g>
<g id="n456"><circle cx="808" cy="606"/></g>
<g id="n457"><circle cx="818" cy="608"/></g>
<g id="n458"><circle cx="828" cy="606"/></g>
<g id="n459"><circle cx="845" cy="607"/></g>
<g id="n460"><circle cx="855" cy="606"/></g>
<g id="n461"><circle cx="790" cy="614"/></g>
<g id="n462"><circle cx="800" cy="616"/></g>
<g id="n463"><circle cx="810" cy="614"/></g>
<g id="n464"><circle cx="820" cy="616"/></g>
<g id="n465"><circle cx="830" cy="614"/></g>
<g id="n466"><circle cx="840" cy="616"/></g>
<g id="n467"><circle cx="850" cy="614"/></g>
<g id="n468"><circle cx="795" cy="622"/></g>
<g id="n469"><circle cx="805" cy="624"/></g>
<g id="n470"><circle cx="815" cy="622"/></g>
<g id="n471"><circle cx="825" cy="624"/></g>
<g id="n472"><circle cx="837" cy="627"/></g>
<g id="n473"><circle cx="847" cy="622"/></g>
<g id="n474"><circle cx="810" cy="630"/></g>
<g id="n475"><circle cx="820" cy="630"/></g>
<g id="n476"><circle cx="755" cy="511"/><text x="761" y="509">aa3c41</text></g>
<g id="n477"><circle cx="780" cy="512"/><text x="786" y="507">5e18d2</text></g>
<g id="n478"><circle cx="810" cy="512"/><text x="816" y="510">b9c6f7</text></g>
<g id="n479"><circle cx="760" cy="527"/><text x="766" y="530">04d7e3</text></g>
<g id="n480"><circle cx="790" cy="527"/><text x="796" y="530">f2a85b</text></g>
<g id="n481"><circle cx="815" cy="529"/><text x="821" y="532">6c19d0</text></g>
<g id="n482"><circle cx="765" cy="540"/><text x="771" y="538">e97b2c</text></g>
<g id="n483"><circle cx="800" cy="541"/><text x="806" y="540">31fd8a</text></g>
<g id="n484"><circle cx="832" cy="541"/><text x="838" y="544">7d40e6</text></g>
<g id="n485"><circle cx="770" cy="558"/><text x="776" y="562">a2b85f</text></g>
<g id="n486"><circle cx="785" cy="556"/><text x="791" y="565">c06e39</text></g>
<g id="n487"><circle cx="835" cy="560"/><text x="841" y="558">4f17b8</text></g>
<g id="n488"><circle cx="775" cy="566"/><text x="781" y="570">92ea7d</text></g>
<g id="n489"><circle cx="810" cy="575"/><text x="816" y="574">e8305c</text></g>
<g id="n490"><circle cx="838" cy="585"/><text x="844" y="587">d5c2a1</text></g>
<g id="n491"><circle cx="780" cy="584"/><text x="786" y="582">16fb47</text></g>
<g id="n492"><circle cx="810" cy="492"/><text x="816" y="495">0d9ec3</text></g>
<g id="n493"><circle cx="838" cy="495"/><text x="844" y="499">7fa4b2</text></g>
<g id="n494"><circle cx="858" cy="498"/><text x="864" y="501">e2c905</text></g>
<g id="n495"><circle cx="770" cy="655"/><text x="776" y="658">b6d1f8</text></g>
<g id="n496"><circle cx="785" cy="670"/><text x="791" y="668">38e0a7</text></g>
<g id="n497"><circle cx="805" cy="653"/><text x="811" y="656">c17f4e</text></g>
<g id="n498"><circle cx="825" cy="650"/><text x="816" y="660">5a93d6</text></g>
<g id="n499"><circle cx="770" cy="680"/><text x="776" y="683">f08b2c</text></g>
<g id="n500"><circle cx="805" cy="675"/><text x="811" y="680">26e7d1</text></g>
<g id="n501"><circle cx="775" cy="695"/><text x="781" y="698">9c4a05</text></g>
<g id="n502"><circle cx="730" cy="606"/><text x="736" y="604">d83f1b</text></g>
<g id="n503"><circle cx="745" cy="600"/><text x="751" y="603">41c7e6</text></g>
<g id="n504"><circle cx="760" cy="605"/><text x="766" y="608">ab2f90</text></g>
<g id="n505"><circle cx="775" cy="600"/><text x="772" y="596">60d8e4</text></g>
<g id="n506"><circle cx="880" cy="530"/><text x="886" y="530">e5b31c</text></g>
<g id="n507"><circle cx="885" cy="525"/></g>
<g id="n508"><circle cx="890" cy="545"/><text x="896" y="543">72f8a6</text></g>
<g id="n509"><circle cx="898" cy="540"/><text x="904" y="538">0c6d94</text></g>
</g>
</svg>
